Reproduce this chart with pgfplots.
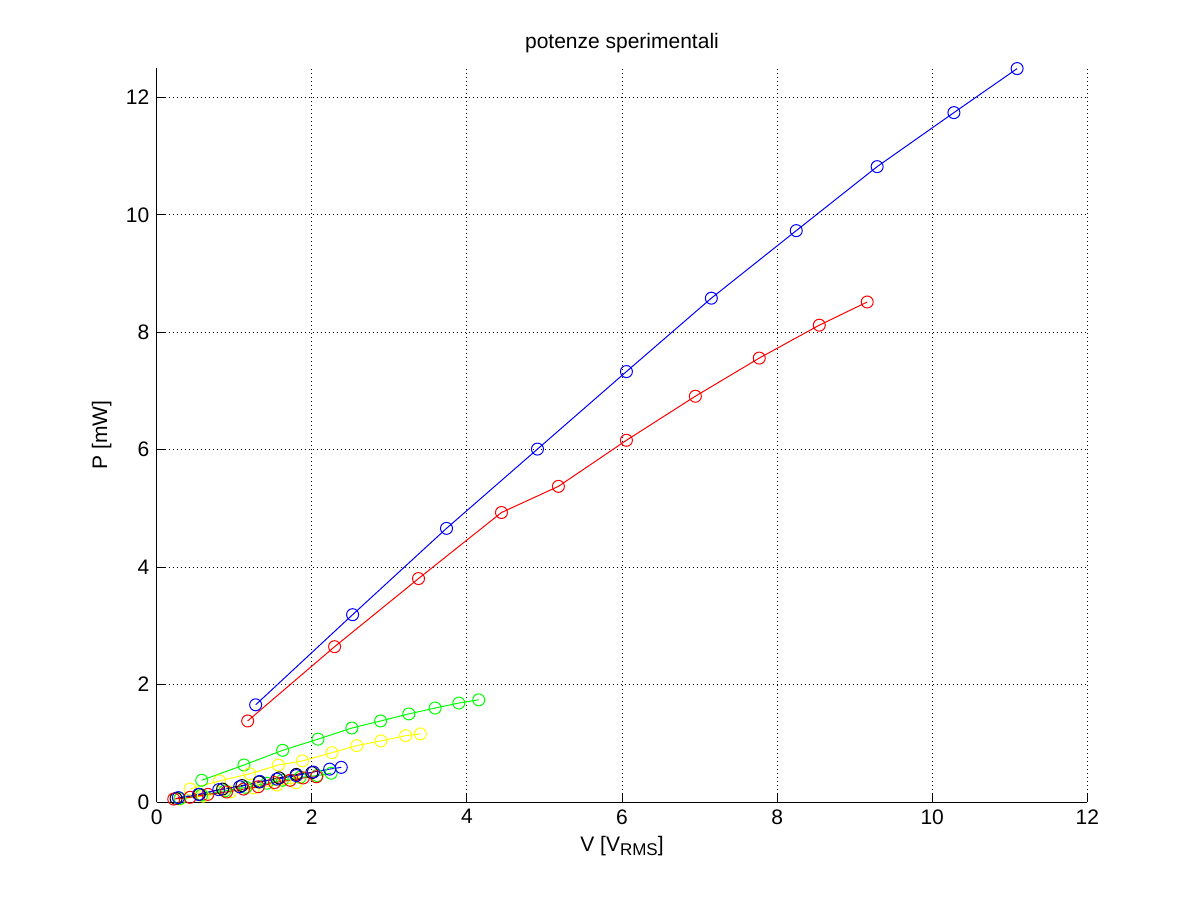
\documentclass[border=0pt]{standalone}
\usepackage{pgfplots}
\pgfplotsset{compat=1.18}
\usepackage{fontspec}
\setmainfont{Liberation Sans}
\begin{document}
\fontsize{10.5bp}{12.5bp}\selectfont
\begin{tikzpicture}
\path[use as bounding box] (-78.35bp,-49.5bp) rectangle (522.15bp,401bp);
\begin{axis}[
  at={(0,0)}, anchor=south west,
  scale only axis, width=465.3bp, height=367bp,
  xmin=0, xmax=12, ymin=0, ymax=12.5,
  xtick={0,2,...,12}, ytick={0,2,...,12},
  axis x line=bottom, axis y line=left,
  axis line style={-, line width=0.5bp},
  tick align=inside, major tick length=4bp,
  tick style={line width=0.5bp, black},
  grid=major,
  major grid style={line width=0.5bp, black, dash pattern=on 0.5bp off 1.5bp},
  /pgf/number format/assume math mode=true,
  ticklabel style={font=\fontsize{10.5bp}{12.5bp}\selectfont},
  label style={font=\fontsize{10.5bp}{12.5bp}\selectfont},
  title style={font=\fontsize{10.5bp}{12.5bp}\selectfont, yshift=-2bp},
  title={potenze sperimentali},
  xlabel={V [V\raisebox{-0.35ex}{\fontsize{8.5bp}{9bp}\selectfont RMS}]},
  ylabel={P [mW]},
  xlabel style={yshift=1bp},
  ylabel style={yshift=0bp},
  every axis plot/.append style={line width=0.5bp, mark=o, mark size=3bp, mark options={solid, line width=0.5bp}},
  clip=false,
]
% big blue
\addplot[color={rgb,1:red,0;green,0;blue,1}] coordinates {
(1.276,1.655) (2.526,3.19) (3.737,4.66) (4.91,6.01) (6.057,7.33) (7.152,8.58) (8.247,9.73) (9.29,10.82) (10.28,11.74) (11.095,12.49)};
% big red
\addplot[color={rgb,1:red,1;green,0;blue,0}] coordinates {
(1.173,1.38) (2.294,2.645) (3.376,3.805) (4.446,4.93) (5.18,5.375) (6.057,6.16) (6.946,6.91) (7.77,7.56) (8.544,8.12) (9.162,8.515)};
% big green
\addplot[color={rgb,1:red,0;green,1;blue,0}] coordinates {
(0.58,0.37) (1.125,0.63) (1.624,0.88) (2.08,1.07) (2.517,1.26) (2.887,1.38) (3.251,1.50) (3.59,1.60) (3.896,1.685) (4.153,1.74)};
% big yellow
\addplot[color={rgb,1:red,1;green,1;blue,0}] coordinates {
(0.43,0.22) (0.81,0.36) (1.20,0.48) (1.57,0.63) (1.88,0.70) (2.26,0.84) (2.58,0.96) (2.89,1.04) (3.21,1.13) (3.40,1.16)};
% small yellow
\addplot[color={rgb,1:red,1;green,1;blue,0}] coordinates {
(0.30,0.05) (0.60,0.10) (0.95,0.17) (1.25,0.24) (1.55,0.29) (1.80,0.33)};
% small green
\addplot[color={rgb,1:red,0;green,1;blue,0}] coordinates {
(0.30,0.06) (0.58,0.12) (0.88,0.19) (1.15,0.25) (1.42,0.32) (1.62,0.37) (1.85,0.42) (2.07,0.45) (2.25,0.49)};
% black
\addplot[color=black] coordinates {
(0.25,0.06) (0.55,0.13) (0.85,0.22) (1.10,0.28) (1.32,0.34) (1.58,0.41) (1.80,0.47) (2.00,0.50)};
% small red
\addplot[color={rgb,1:red,1;green,0;blue,0}] coordinates {
(0.22,0.05) (0.43,0.08) (0.66,0.13) (0.90,0.17) (1.12,0.22) (1.31,0.26) (1.52,0.33) (1.72,0.37) (1.89,0.41) (2.06,0.43)};
% small blue
\addplot[color={rgb,1:red,0;green,0;blue,1}] coordinates {
(0.28,0.075) (0.54,0.13) (0.80,0.21) (1.07,0.26) (1.33,0.35) (1.55,0.39) (1.80,0.45) (2.02,0.51) (2.23,0.56) (2.38,0.59)};
\end{axis}
\end{tikzpicture}
\end{document}
